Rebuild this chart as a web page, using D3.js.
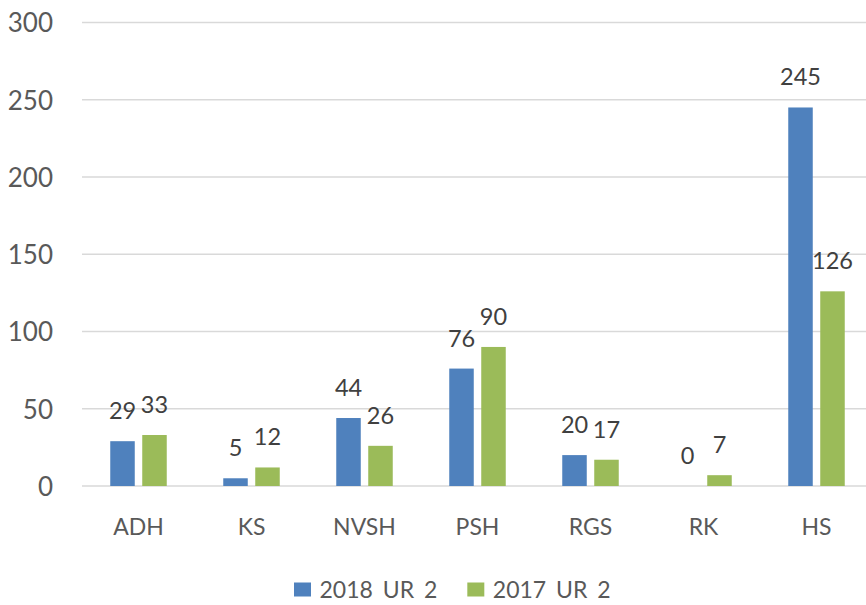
<!DOCTYPE html>
<html>
<head>
<meta charset="utf-8">
<script src="https://cdn.jsdelivr.net/npm/d3@7"></script>
<style>
  body { margin: 0; background: #ffffff; }
  svg { display: block; font-family: Lato, "Open Sans", sans-serif; }
</style>
</head>
<body>
<svg id="chart"></svg>
<script>
// Chart data
const categories = ["ADH", "KS", "NVSH", "PSH", "RGS", "RK", "HS"];
const seriesNames = ["2018 UR 2", "2017 UR 2"];
const values2018 = [29, 5, 44, 76, 20, 0, 245];
const values2017 = [33, 12, 26, 90, 17, 7, 126];
const yTicks = [0, 50, 100, 150, 200, 250, 300];

const colors = ["#4f81bd", "#9bbb59"];

// Define the dimensions for the svg
const width = 866;
const height = 605;

const svg = d3.select("#chart")
    .attr("width", width)
    .attr("height", height);

// Rows used by the grouped bars
const rows = categories.map((c, i) => ({ category: c, values: [values2018[i], values2017[i]] }));

// Scales (plot runs a little past the right edge, like the cropped original)
const x0 = d3.scaleBand()
    .domain(categories)
    .range([82, 873])
    .paddingInner(0.5)
    .paddingOuter(0.25);

const x1 = d3.scaleBand()
    .domain(seriesNames)
    .range([0, x0.bandwidth()])
    .paddingInner(0.234);

const y = d3.scaleLinear()
    .domain([0, 300])
    .range([486, 22.5]);

// Gridlines
svg.append("g")
    .selectAll("line").data(yTicks)
    .join("line")
    .attr("x1", 82).attr("x2", width)
    .attr("y1", d => y(d)).attr("y2", d => y(d))
    .attr("stroke", "#d9d9d9")
    .attr("stroke-width", 1.5);

// Y axis labels
const yAxis = svg.append("g")
    .attr("transform", "translate(53,0)")
    .call(d3.axisLeft(y).tickValues(yTicks).tickSize(0).tickPadding(0));
yAxis.select(".domain").remove();
yAxis.selectAll("text")
    .attr("font-family", "Lato, 'Open Sans', sans-serif")
    .attr("font-size", 26)
    .attr("fill", "#595959")
    .attr("dy", "0.36em");

// X axis labels
const xAxis = svg.append("g")
    .attr("transform", "translate(0,486)")
    .call(d3.axisBottom(x0).tickSize(0).tickPadding(0));
xAxis.select(".domain").remove();
xAxis.selectAll("text")
    .attr("font-family", "Lato, 'Open Sans', sans-serif")
    .attr("font-size", 23)
    .attr("fill", "#595959")
    .attr("y", 49)
    .attr("dy", 0);

// Bars and data labels
const groups = svg.append("g")
    .selectAll("g").data(rows)
    .join("g")
    .attr("transform", d => `translate(${x0(d.category)},0)`);

groups.selectAll("rect")
    .data(d => d.values.map((v, i) => ({ key: seriesNames[i], value: v, idx: i })))
    .join("rect")
    .attr("x", d => x1(d.key))
    .attr("y", d => y(d.value))
    .attr("width", x1.bandwidth())
    .attr("height", d => y(0) - y(d.value))
    .attr("fill", d => colors[d.idx]);

groups.selectAll("text")
    .data(d => d.values.map((v, i) => ({ key: seriesNames[i], value: v })))
    .join("text")
    .attr("x", d => x1(d.key) + x1.bandwidth() / 2)
    .attr("y", d => y(d.value) - 22)
    .attr("text-anchor", "middle")
    .attr("font-size", 23.5)
    .attr("fill", "#404040")
    .text(d => d.value);

// Legend
const legend = svg.append("g").attr("transform", "translate(294,0)");
let legendX = 0;
seriesNames.forEach((name, i) => {
    legend.append("rect")
        .attr("x", legendX).attr("y", 582.5)
        .attr("width", 17).attr("height", 14)
        .attr("fill", colors[i]);
    const label = legend.append("text")
        .attr("x", legendX + 25.5).attr("y", 598)
        .attr("font-size", 23)
        .attr("word-spacing", 4)
        .attr("fill", "#595959")
        .text(name);
    legendX += 25.5 + label.node().getComputedTextLength() + 30;
});
</script>
</body>
</html>
